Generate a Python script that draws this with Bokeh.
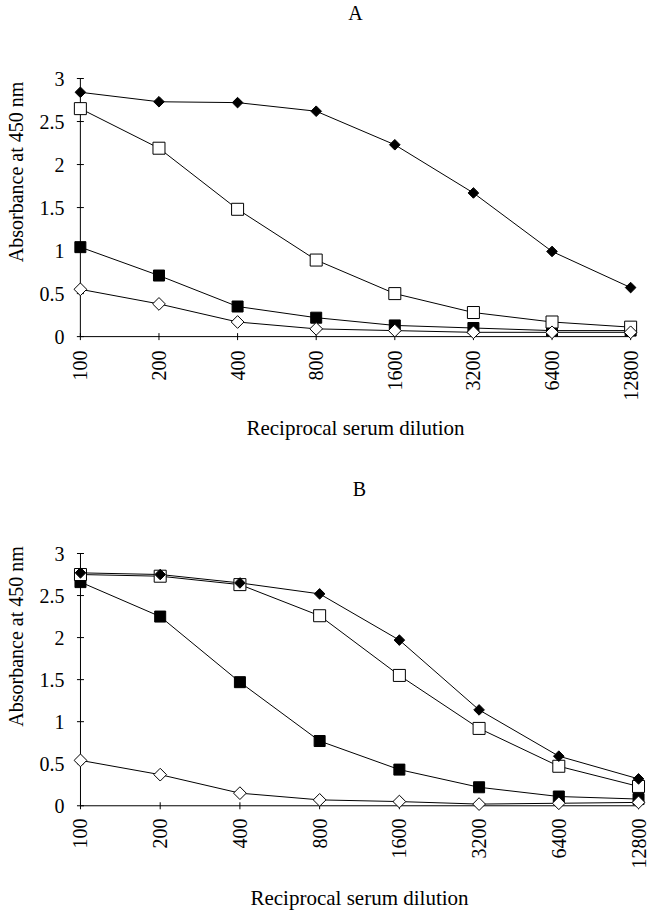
import math
from bokeh.plotting import figure
from bokeh.layouts import column
from bokeh.models import Range1d, FixedTicker, NumeralTickFormatter, Label
from bokeh.embed import file_html
from bokeh.resources import INLINE

# ---- data ----
dilutions = ["100", "200", "400", "800", "1600", "3200", "6400", "12800"]
y_ticks = [0, 0.5, 1, 1.5, 2, 2.5, 3]

a_filled_diamond = [2.84, 2.73, 2.72, 2.62, 2.23, 1.67, 0.99, 0.57]
a_open_square = [2.65, 2.19, 1.48, 0.89, 0.50, 0.28, 0.17, 0.11]
a_filled_square = [1.04, 0.71, 0.35, 0.22, 0.13, 0.10, 0.07, 0.07]
a_open_diamond = [0.55, 0.38, 0.17, 0.09, 0.07, 0.05, 0.05, 0.05]

b_filled_diamond = [2.77, 2.75, 2.65, 2.52, 1.97, 1.14, 0.59, 0.32]
b_open_square = [2.75, 2.73, 2.63, 2.26, 1.55, 0.92, 0.47, 0.23]
b_filled_square = [2.66, 2.25, 1.47, 0.77, 0.43, 0.22, 0.11, 0.08]
b_open_diamond = [0.54, 0.37, 0.15, 0.07, 0.05, 0.02, 0.03, 0.04]

FONT = "Liberation Serif"


def make_panel(title, fd, osq, fsq, od, width, height, b_left, b_right,
               b_bottom, y_top, title_y, xlab_standoff, xtitle_standoff):
    xs = list(range(len(dilutions)))
    x_start, x_end = -0.1, xs[-1] + 0.1
    # the frame extends above the axis top so that the panel letter sits inside it
    p = figure(width=width, height=height, output_backend="svg", toolbar_location=None,
               x_range=Range1d(x_start, x_end),
               y_range=Range1d(-0.08, y_top),
               min_border_left=b_left, min_border_right=b_right,
               min_border_top=0, min_border_bottom=b_bottom,
               background_fill_color="white", border_fill_color="white")
    p.outline_line_color = None
    p.grid.visible = False

    p.add_layout(Label(x=(x_start + x_end) / 2, y=title_y, text=title,
                       text_align="center", text_baseline="middle",
                       text_font=FONT, text_font_size="20px", text_color="black"))

    xa = p.xaxis[0]
    xa.ticker = FixedTicker(ticks=xs)
    xa.major_label_overrides = {i: lab for i, lab in enumerate(dilutions)}
    xa.major_label_orientation = math.pi / 2
    xa.axis_line_color = None
    xa.major_tick_out = 0
    xa.major_tick_in = 0
    xa.minor_tick_out = 0
    xa.minor_tick_in = 0
    xa.major_label_standoff = xlab_standoff
    xa.major_label_text_font = FONT
    xa.major_label_text_font_size = "20px"
    xa.major_label_text_color = "black"
    xa.axis_label = "Reciprocal serum dilution"
    xa.axis_label_text_font = FONT
    xa.axis_label_text_font_size = "21px"
    xa.axis_label_text_font_style = "normal"
    xa.axis_label_text_color = "black"
    xa.axis_label_standoff = xtitle_standoff

    ya = p.yaxis[0]
    ya.ticker = FixedTicker(ticks=y_ticks)
    ya.formatter = NumeralTickFormatter(format="0.[0]")
    ya.axis_line_color = None
    ya.major_tick_out = 0
    ya.major_tick_in = 0
    ya.minor_tick_out = 0
    ya.minor_tick_in = 0
    ya.major_label_standoff = 8
    ya.major_label_text_font = FONT
    ya.major_label_text_font_size = "20px"
    ya.major_label_text_color = "black"
    ya.axis_label = "Absorbance at 450 nm"
    ya.axis_label_text_font = FONT
    ya.axis_label_text_font_size = "20px"
    ya.axis_label_text_font_style = "normal"
    ya.axis_label_text_color = "black"
    ya.axis_label_standoff = 10

    # axis lines and crossing ticks drawn at the data origin
    p.segment(x0=[xs[0], xs[0]], y0=[y_ticks[0], y_ticks[0]],
              x1=[xs[0], xs[-1]], y1=[y_ticks[-1], y_ticks[0]],
              line_color="black", line_width=1)
    p.scatter(x=[xs[0]] * len(y_ticks), y=y_ticks, marker="dash", size=7,
              line_color="black", line_width=1)
    p.scatter(x=xs, y=[y_ticks[0]] * len(xs), marker="dash", angle=math.pi / 2, size=7,
              line_color="black", line_width=1)

    for vals in (fsq, osq, od, fd):
        p.line(xs, vals, line_color="black", line_width=1)

    p.scatter(xs, fsq, marker="square", size=11, fill_color="black", line_color="black")
    p.scatter(xs, osq, marker="square", size=12, fill_color="white", line_color="black",
              line_width=1)
    p.scatter(xs, od, marker="square", angle=math.pi / 4, size=9, fill_color="white",
              line_color="black", line_width=1)
    p.scatter(xs, fd, marker="square", angle=math.pi / 4, size=7.5, fill_color="black",
              line_color="black")
    return p


pA = make_panel("A", a_filled_diamond, a_open_square, a_filled_square, a_open_diamond,
                width=648, height=460, b_left=72, b_right=10, b_bottom=117,
                y_top=3.907, title_y=3.76, xlab_standoff=7, xtitle_standoff=12)
pB = make_panel("B", b_filled_diamond, b_open_square, b_filled_square, b_open_diamond,
                width=656, height=452, b_left=72, b_right=2, b_bottom=96,
                y_top=4.106, title_y=3.77, xlab_standoff=6, xtitle_standoff=14)

layout = column(pA, pB, spacing=0)
open("out.html", "w").write(file_html(layout, INLINE))
